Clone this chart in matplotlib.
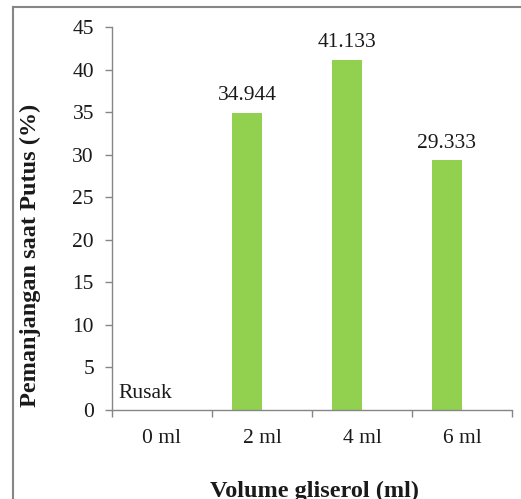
import matplotlib
matplotlib.use("Agg")
import matplotlib.pyplot as plt
from matplotlib.lines import Line2D
from matplotlib.ticker import FixedLocator, NullFormatter
import numpy as np

plt.rcParams['font.family'] = ['Liberation Serif', 'DejaVu Serif']

categories = ["0 ml", "2 ml", "4 ml", "6 ml"]
values = [0, 34.944, 41.133, 29.333]
value_labels = [None, "34.944", "41.133", "29.333"]
yticks = [0, 5, 10, 15, 20, 25, 30, 35, 40, 45]

fig = plt.figure(figsize=(5.21, 4.99), dpi=100)
ax = fig.add_axes([112/521, 1-410/499, 400/521, 383/499])

x = np.arange(len(categories))
offset = -0.15
ax.bar(x + offset, values, width=0.3, color="#92D050")
for xi, v, lab in zip(x, values, value_labels):
    if lab:
        ax.text(xi + offset, v + 1.5, lab, ha="center", va="baseline", fontsize=15.5, color="#1a1a1a")

ax.text(-0.44, 1.4, "Rusak", ha="left", va="baseline", fontsize=15.5, color="#1a1a1a")

ax.set_xlim(-0.5, 3.5)
ax.set_ylim(0, 45)
ax.set_yticks(yticks)
ax.set_xticks(x)
ax.set_xticklabels(categories)
ax.xaxis.set_minor_locator(FixedLocator([-0.5, 0.5, 1.5, 2.5, 3.5]))
ax.xaxis.set_minor_formatter(NullFormatter())

spine_color = "#868686"
for s in ["top", "right"]:
    ax.spines[s].set_visible(False)
for s in ["left", "bottom"]:
    ax.spines[s].set_color(spine_color)
    ax.spines[s].set_linewidth(1.0)

ax.tick_params(axis="y", which="major", direction="out", length=5, width=1.0, color=spine_color,
               labelsize=15.5, pad=8, labelcolor="#1a1a1a")
ax.tick_params(axis="x", which="major", length=0, labelsize=15.5, pad=14, labelcolor="#1a1a1a")
ax.tick_params(axis="x", which="minor", direction="out", length=5, width=1.0, color=spine_color)

fig.text(30/521, 1-255/499, "Pemanjangan saat Putus (%)", rotation=90, ha="center", va="center",
         fontsize=17.5, fontweight="bold", color="#1a1a1a")
fig.text(315/521, 1-497/499, "Volume gliserol (ml)", ha="center", va="baseline",
         fontsize=17.5, fontweight="bold", color="#1a1a1a")

# outer chart frame (partially visible)
fig.add_artist(Line2D([13/521, 1.01], [1-7/499, 1-7/499], transform=fig.transFigure,
                      color=spine_color, linewidth=1.5))
fig.add_artist(Line2D([13/521, 13/521], [-0.01, 1-7/499], transform=fig.transFigure,
                      color=spine_color, linewidth=1.5))

fig.savefig("out.png", dpi=100)
